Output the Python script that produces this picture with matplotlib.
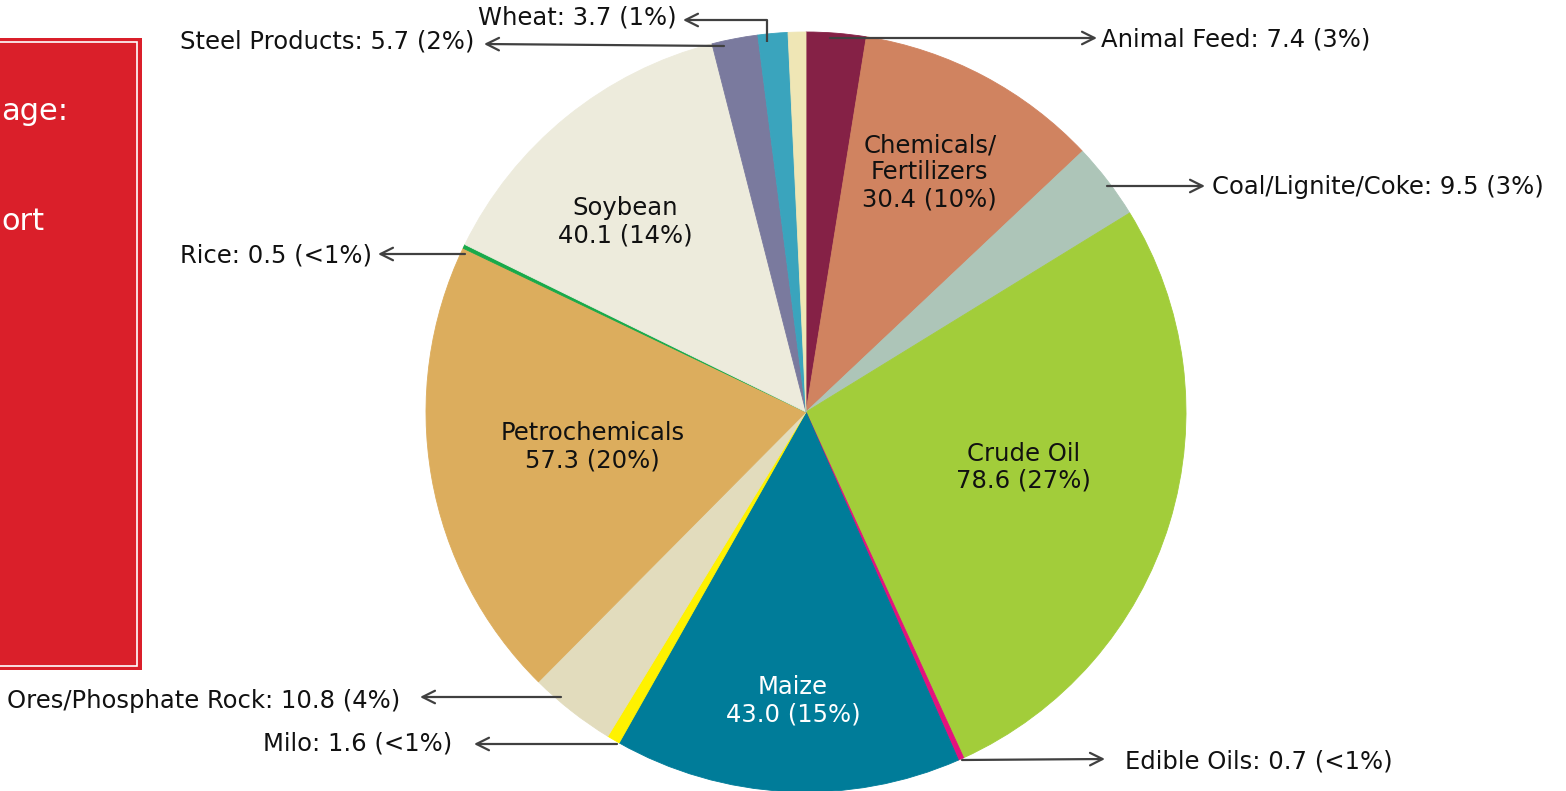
import matplotlib
matplotlib.use("Agg")
import matplotlib.pyplot as plt
import numpy as np
from matplotlib.patches import Rectangle

# ---------------- data ----------------
categories = ["Animal Feed", "Chemicals/\nFertilizers", "Coal/Lignite/Coke", "Crude Oil",
              "Edible Oils", "Maize", "Milo", "Ores/Phosphate Rock", "Petrochemicals",
              "Rice", "Soybean", "Steel Products", "Wheat", "Other"]
values = [7.4, 30.4, 9.5, 78.6, 0.7, 43.0, 1.6, 10.8, 57.3, 0.5, 40.1, 5.7, 3.7, 2.2]
pct_labels = ["3%", "10%", "3%", "27%", "<1%", "15%", "<1%", "4%", "20%", "<1%", "14%", "2%", "1%", ""]

colors = ["#852146", "#D08360", "#ADC5B8", "#A2CD3A", "#E4117E", "#007C99", "#FFF200",
          "#E2DCBD", "#DCAD5D", "#18AA4A", "#EDEBDC", "#7A7A9E", "#3AA4BD", "#EFE6B5"]

# ---------------- layout ----------------
W, H = 1566, 791
CX, CY, R = 806, H - 412, 380
FONT = ["DejaVu Sans"]
FS = 17.5

fig = plt.figure(figsize=(W / 100, H / 100), dpi=100)
ax = fig.add_axes([0, 0, 1, 1])

wedges, _ = ax.pie(values, colors=colors, startangle=90, counterclock=False,
                   center=(CX, CY), radius=R, frame=True,
                   wedgeprops=dict(linewidth=0.6))
for w, c in zip(wedges, colors):
    w.set_edgecolor(c)
ax.set_xlim(0, W)
ax.set_ylim(0, H)
ax.set_aspect("equal")
ax.axis("off")

total = sum(values)
cum = np.cumsum([0] + values)

def fmt(i):
    return f"{values[i]:.1f} ({pct_labels[i]})"

# inside labels: index -> (radius factor, angle offset deg, color)
inside = {1: (0.71, -0.6, "#111111"), 3: (0.59, -2.7, "#111111"), 5: (0.76, -0.3, "white"),
          8: (0.57, 0.6, "#111111"), 10: (0.69, -4.5, "#111111")}
for i, (rf, off, col) in inside.items():
    mid = (cum[i] + cum[i + 1]) / 2 / total * 360 + off
    a = np.deg2rad(mid)
    x = CX + rf * R * np.sin(a)
    y = CY + rf * R * np.cos(a)
    ax.text(x, y, f"{categories[i]}\n{fmt(i)}", ha="center", va="center",
            fontsize=FS, color=col, family=FONT, linespacing=1.17)

# outside labels: index -> (anchor xy in px (top-origin), arrow tip, text pos, ha)
arrow_kw = dict(arrowstyle="->,head_length=0.9,head_width=0.45", color="#404040", lw=1.6,
                shrinkA=0, shrinkB=0)
outside = {
    0: ((830, 38), (1097, 38), (1101, 40), "left"),
    2: ((1107, 186), (1205, 186), (1212, 187), "left"),
    4: ((962, 760), (1105, 759), (1125, 761), "left"),
    6: ((617, 744), (474, 744), (452, 744), "right"),
    7: ((561, 697), (420, 697), (400, 701), "right"),
    9: ((465, 254), (378, 254), (372, 256), "right"),
    11: ((724, 46), (484, 44), (474, 42), "right"),
}
for i, (a0, a1, tp, ha) in outside.items():
    name = categories[i]
    ax.annotate("", xy=(a1[0], H - a1[1]), xytext=(a0[0], H - a0[1]), arrowprops=arrow_kw)
    ax.text(tp[0], H - tp[1], f"{name}: {fmt(i)}", ha=ha, va="center",
            fontsize=FS, color="#111111", family=FONT)

# Wheat: elbow connector
ax.plot([767, 767], [H - 42, H - 20], color="#404040", lw=1.6, solid_capstyle="butt")
ax.annotate("", xy=(683, H - 20), xytext=(767, H - 20), arrowprops=arrow_kw)
ax.text(677, H - 18, f"{categories[12]}: {fmt(12)}", ha="right", va="center",
        fontsize=FS, color="#111111", family=FONT)

# red side panel (cropped slide element)
ax.add_patch(Rectangle((-5, H - 670), 147, 632, facecolor="#DA1F2A", edgecolor="none"))
ax.add_patch(Rectangle((-5, H - 666), 142, 624, facecolor="none", edgecolor="white", lw=1.2))
ax.text(68, H - 112, "age:", ha="right", va="center", fontsize=22, color="white",
        family=FONT)
ax.text(1, H - 222, "ort", ha="left", va="center", fontsize=22, color="white", family=FONT)

fig.savefig("out.png", dpi=100)
